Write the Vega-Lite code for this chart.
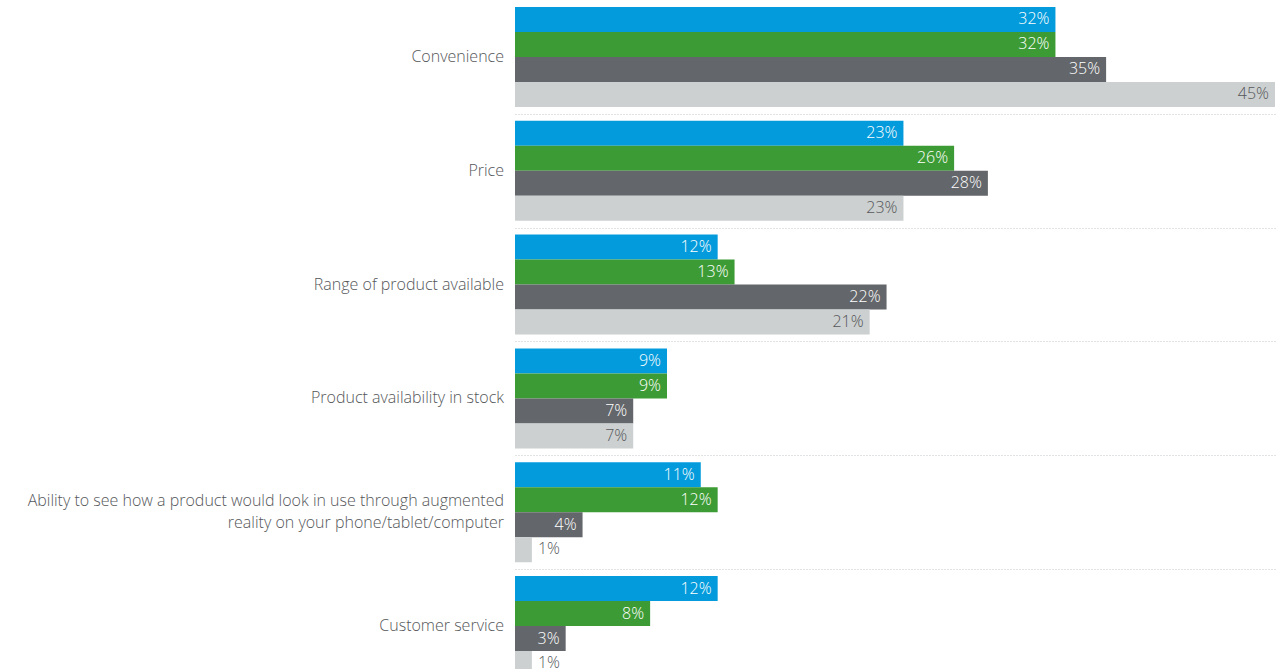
{
  "$schema": "https://vega.github.io/schema/vega-lite/v6.json",
  "width": 1257,
  "height": 669,
  "autosize": "none",
  "padding": {"left": 18, "top": 0, "right": 6, "bottom": 0},
  "background": "white",
  "config": {"view": {"stroke": null}, "font": "Open Sans"},
  "datasets": {
    "bars": [
      {"category": "Convenience", "series": "Group 1", "value": 32},
      {"category": "Convenience", "series": "Group 2", "value": 32},
      {"category": "Convenience", "series": "Group 3", "value": 35},
      {"category": "Convenience", "series": "Group 4", "value": 45},
      {"category": "Price", "series": "Group 1", "value": 23},
      {"category": "Price", "series": "Group 2", "value": 26},
      {"category": "Price", "series": "Group 3", "value": 28},
      {"category": "Price", "series": "Group 4", "value": 23},
      {"category": "Range of product available", "series": "Group 1", "value": 12},
      {"category": "Range of product available", "series": "Group 2", "value": 13},
      {"category": "Range of product available", "series": "Group 3", "value": 22},
      {"category": "Range of product available", "series": "Group 4", "value": 21},
      {"category": "Product availability in stock", "series": "Group 1", "value": 9},
      {"category": "Product availability in stock", "series": "Group 2", "value": 9},
      {"category": "Product availability in stock", "series": "Group 3", "value": 7},
      {"category": "Product availability in stock", "series": "Group 4", "value": 7},
      {"category": "Augmented reality", "series": "Group 1", "value": 11},
      {"category": "Augmented reality", "series": "Group 2", "value": 12},
      {"category": "Augmented reality", "series": "Group 3", "value": 4},
      {"category": "Augmented reality", "series": "Group 4", "value": 1},
      {"category": "Customer service", "series": "Group 1", "value": 12},
      {"category": "Customer service", "series": "Group 2", "value": 8},
      {"category": "Customer service", "series": "Group 3", "value": 3},
      {"category": "Customer service", "series": "Group 4", "value": 1}
    ],
    "cats": [
      {"category": "Convenience", "lines": ["Convenience"], "multi": false},
      {"category": "Price", "lines": ["Price"], "multi": false},
      {"category": "Range of product available", "lines": ["Range of product available"], "multi": false},
      {"category": "Product availability in stock", "lines": ["Product availability in stock"], "multi": false},
      {"category": "Augmented reality", "lines": ["Ability to see how a product would look in use through augmented", "reality on your phone/tablet/computer"], "multi": true},
      {"category": "Customer service", "lines": ["Customer service"], "multi": false}
    ]
  },
  "layer": [
    {
      "data": {"name": "bars"},
      "mark": {"type": "bar"},
      "encoding": {
        "y": {
          "field": "category", "type": "nominal",
          "scale": {
            "domain": ["Convenience", "Price", "Range of product available", "Product availability in stock", "Augmented reality", "Customer service"],
            "range": [0, 683], "paddingInner": 0.1213, "paddingOuter": 0.0615
          },
          "axis": {
            "title": null, "labels": false, "ticks": false, "domain": false,
            "grid": true, "bandPosition": 0, "tickOffset": -7,
            "gridDash": [1, 2], "gridColor": "#c4c6c8", "gridWidth": 1,
            "gridOpacity": {"condition": {"test": "datum.value === 'Convenience'", "value": 0}, "value": 1}
          }
        },
        "yOffset": {
          "field": "series", "type": "nominal",
          "scale": {"domain": ["Group 1", "Group 2", "Group 3", "Group 4"], "paddingInner": 0, "paddingOuter": 0}
        },
        "x": {
          "field": "value", "type": "quantitative",
          "scale": {"domain": [0, 45], "range": [497, 1257], "nice": false, "zero": true},
          "axis": null
        },
        "color": {
          "field": "series", "type": "nominal",
          "scale": {"domain": ["Group 1", "Group 2", "Group 3", "Group 4"], "range": ["#039bdc", "#3d9b35", "#63666a", "#ccd0d0"]},
          "legend": null
        }
      }
    },
    {
      "data": {"name": "bars"},
      "transform": [{"filter": "datum.value >= 2"}, {"calculate": "datum.value + '%'", "as": "label"}],
      "mark": {"type": "text", "align": "right", "baseline": "middle", "dx": -6, "fontSize": 16, "fontWeight": 300},
      "encoding": {
        "y": {"field": "category", "type": "nominal"},
        "yOffset": {"field": "series", "type": "nominal"},
        "x": {"field": "value", "type": "quantitative"},
        "text": {"field": "label", "type": "nominal"},
        "color": {"condition": {"test": "datum.series === 'Group 4'", "value": "#55575a"}, "value": "#ffffff"}
      }
    },
    {
      "data": {"name": "bars"},
      "transform": [{"filter": "datum.value < 2"}, {"calculate": "datum.value + '%'", "as": "label"}],
      "mark": {"type": "text", "align": "left", "baseline": "middle", "dx": 6, "dy": -1, "fontSize": 16, "fontWeight": 300, "color": "#55575a"},
      "encoding": {
        "y": {"field": "category", "type": "nominal"},
        "yOffset": {"field": "series", "type": "nominal"},
        "x": {"field": "value", "type": "quantitative"},
        "text": {"field": "label", "type": "nominal"}
      }
    },
    {
      "data": {"name": "cats"},
      "transform": [{"filter": "!datum.multi"}],
      "mark": {"type": "text", "align": "right", "baseline": "middle", "dx": -11, "fontSize": 16, "fontWeight": 300, "color": "#55575a"},
      "encoding": {
        "y": {"field": "category", "type": "nominal"},
        "x": {"datum": 0},
        "text": {"field": "lines", "type": "nominal"}
      }
    },
    {
      "data": {"name": "cats"},
      "transform": [{"filter": "datum.multi"}],
      "mark": {"type": "text", "align": "right", "baseline": "middle", "dx": -11, "dy": -11, "fontSize": 16, "fontWeight": 300, "lineHeight": 22, "color": "#55575a"},
      "encoding": {
        "y": {"field": "category", "type": "nominal"},
        "x": {"datum": 0},
        "text": {"field": "lines", "type": "nominal"}
      }
    }
  ]
}
